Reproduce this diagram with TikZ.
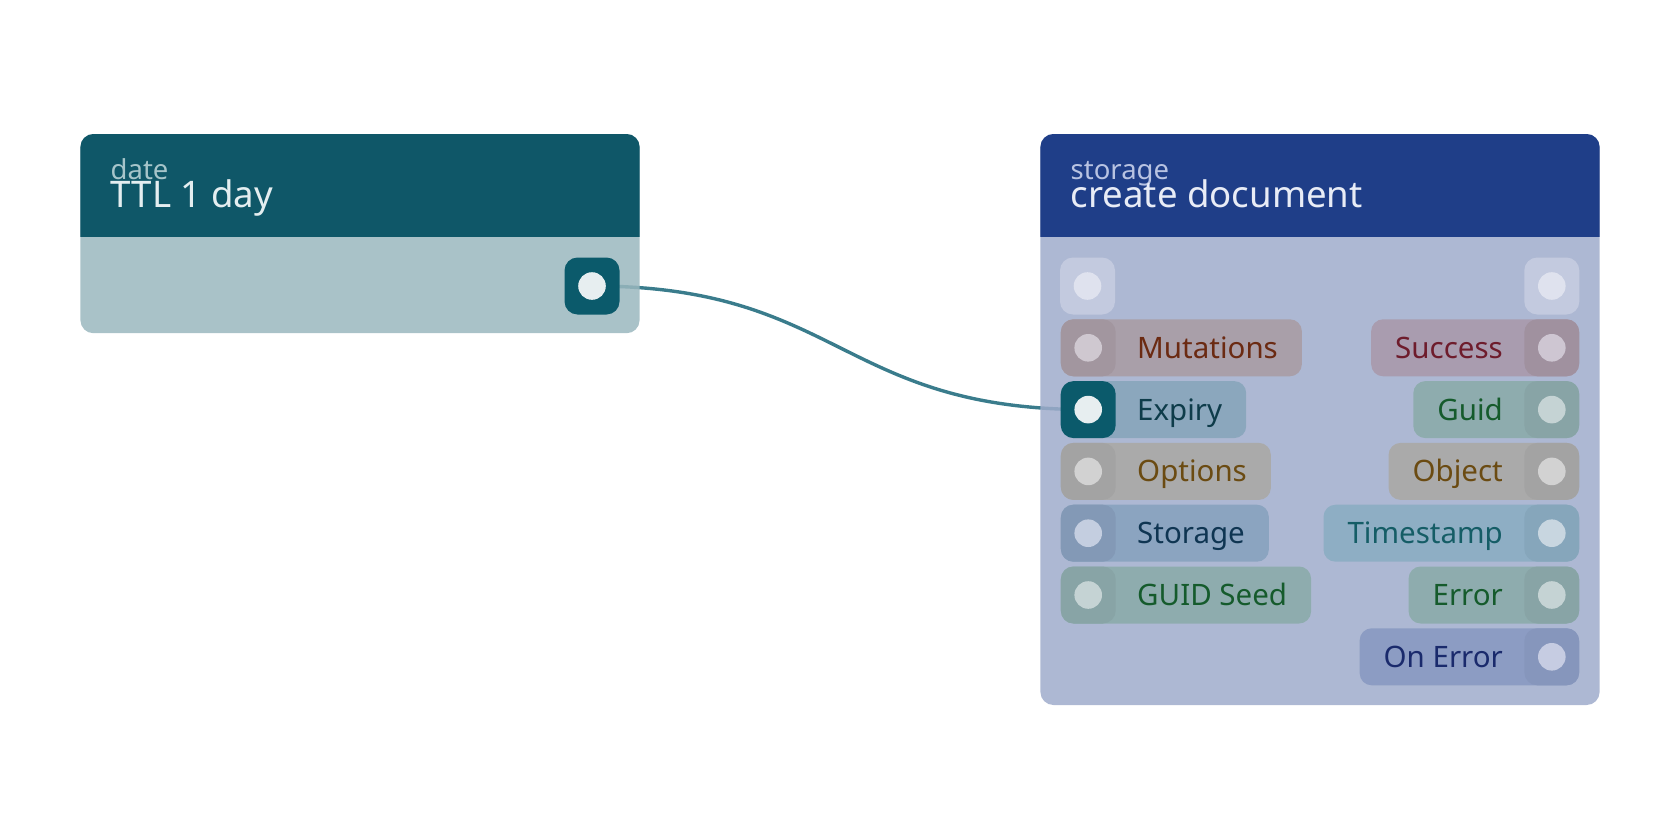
\documentclass[tikz,border=0pt]{standalone}
\usepackage{fontspec}
\setmainfont{Noto Sans}
\usetikzlibrary{backgrounds}

% card colours
\definecolor{ttlhead}{HTML}{0F5768}
\definecolor{ttlbody}{HTML}{9AB7BE}
\definecolor{dochead}{HTML}{1F3E88}
\definecolor{docbody}{HTML}{9FACCB}
\definecolor{ttlsub}{HTML}{A6C5CA}
\definecolor{ttlname}{HTML}{E4EEF0}
\definecolor{docsub}{HTML}{B8C3E2}
\definecolor{docname}{HTML}{E8ECF6}
\definecolor{wire}{HTML}{3A7C8C}
% socket colours: fill / port / dot / ink
\definecolor{topport}{HTML}{C3CADF}   \definecolor{topdot}{HTML}{DFE2EE}
\definecolor{mutfill}{HTML}{A99FA9}   \definecolor{mutport}{HTML}{A2969F}
\definecolor{mutdot}{HTML}{CFC8D0}    \definecolor{mutink}{HTML}{6B2A12}
\definecolor{succfill}{HTML}{A99CAF}  \definecolor{succport}{HTML}{A0919F}
\definecolor{succdot}{HTML}{CEC6D2}   \definecolor{succink}{HTML}{6E1C2C}
\definecolor{expiryfill}{HTML}{8BA7BD} \definecolor{expiryport}{HTML}{0B5A6B}
\definecolor{expirydot}{HTML}{E7EEF0} \definecolor{expiryink}{HTML}{0E3C4A}
\definecolor{grnfill}{HTML}{8EACAE}   \definecolor{grnport}{HTML}{88A4A6}
\definecolor{grndot}{HTML}{C5D3D4}    \definecolor{grnink}{HTML}{155B2C}
\definecolor{ochrefill}{HTML}{AAAAAA} \definecolor{ochreport}{HTML}{A3A3A3}
\definecolor{ochredot}{HTML}{D2D2D2}  \definecolor{ochreink}{HTML}{6B4B12}
\definecolor{storfill}{HTML}{8BA4C0}  \definecolor{storport}{HTML}{8399B6}
\definecolor{stordot}{HTML}{C4CEE0}   \definecolor{storink}{HTML}{0F3552}
\definecolor{timefill}{HTML}{8EAEC4}  \definecolor{timeport}{HTML}{86A6BB}
\definecolor{timedot}{HTML}{C8D6E0}   \definecolor{timeink}{HTML}{155D66}
\definecolor{onerrfill}{HTML}{8C9CC3} \definecolor{onerrport}{HTML}{8696BC}
\definecolor{onerrdot}{HTML}{C6CCE2}  \definecolor{onerrink}{HTML}{1A2A6C}

\tikzset{
  card/.style 2 args={rectangle, rounded corners=6.5pt, inner sep=0pt, minimum width=279.6pt,
    fill=#1, fill opacity=0.85,
    path picture={\fill[#2, fill opacity=1, sharp corners] (path picture bounding box.north west)
      rectangle ([yshift=-51.65pt]path picture bounding box.north east);}},
  kind/.style={anchor=base west, inner sep=0pt, font=\fontsize{13.75pt}{15pt}\selectfont},
  title/.style={anchor=base west, inner sep=0pt, font=\fontsize{18.3pt}{20pt}\selectfont},
  port/.style={rectangle, rounded corners=6.5pt, inner sep=0pt, minimum width=27.5pt,
    minimum height=28.5pt, fill=#1port,
    path picture={\fill[#1dot] (path picture bounding box.center) circle[radius=6.9pt];}},
  pill/.style={rectangle, rounded corners=6pt, inner xsep=12pt, inner ysep=0pt,
    minimum height=28.5pt, text height=12pt, text depth=1.5pt, fill=#1fill, text=#1ink,
    font=\fontsize{14.75pt}{16pt}\selectfont},
  wireline/.style={draw=wire, line width=1.7pt}
}

\begin{document}
\begin{tikzpicture}[x=0.5pt,y=-0.5pt]
	\useasboundingbox (0,0) rectangle (1680,840);
	% cards
	\node[card={ttlbody}{ttlhead}, minimum height=99.6pt] (ttl) at (360,233.6) {};
	\node[card={docbody}{dochead}, minimum height=285.5pt] (doc) at (1320,419.5) {};
	\node[kind, text=ttlsub] (ttl-kind) at ([shift={(30.3,46)}]ttl.north west) {date};
	\node[title, text=ttlname] (ttl-name) at ([shift={(30.3,73.5)}]ttl.north west) {TTL 1 day};
	\node[kind, text=docsub] (doc-kind) at ([shift={(30.3,46)}]doc.north west) {storage};
	\node[title, text=docname] (doc-name) at ([shift={(30.3,73.5)}]doc.north west) {create document};
	% ports
	\node[port=expiry] (ttl-out) at (592,286) {};
	\node[port=top] (flow-in) at (1087.5,286) {};
	\node[port=top] (flow-out) at (1551.8,286) {};
	\foreach \nm/\txt/\k/\cs in {mut/Mutations/1/mut, exp/Expiry/2/expiry, opt/Options/3/ochre,
	    stor/Storage/4/stor, seed/GUID Seed/5/grn}{
		\node[pill=\cs, anchor=west] (\nm-pill) at (1060.7,{286+61.8*\k}) {\hspace*{26.05pt}\txt};
		\node[port=\cs] (\nm-in) at ([xshift=13.75pt]\nm-pill.west) {};
	}
	\foreach \nm/\txt/\k/\cs in {succ/Success/1/succ, guid/Guid/2/grn, obj/Object/3/ochre,
	    time/Timestamp/4/time, err/Error/5/grn, onerr/On Error/6/onerr}{
		\node[pill=\cs, anchor=east] (\nm-pill) at (1579.3,{286+61.8*\k}) {\txt\hspace*{26.05pt}};
		\node[port=\cs] (\nm-out) at ([xshift=-13.75pt]\nm-pill.east) {};
	}
	% link
	\begin{scope}[on background layer]
		\draw[wireline] (ttl-out.center) .. controls +(248,0) and +(-248,0) .. (exp-in.center);
	\end{scope}
\end{tikzpicture}
\end{document}
